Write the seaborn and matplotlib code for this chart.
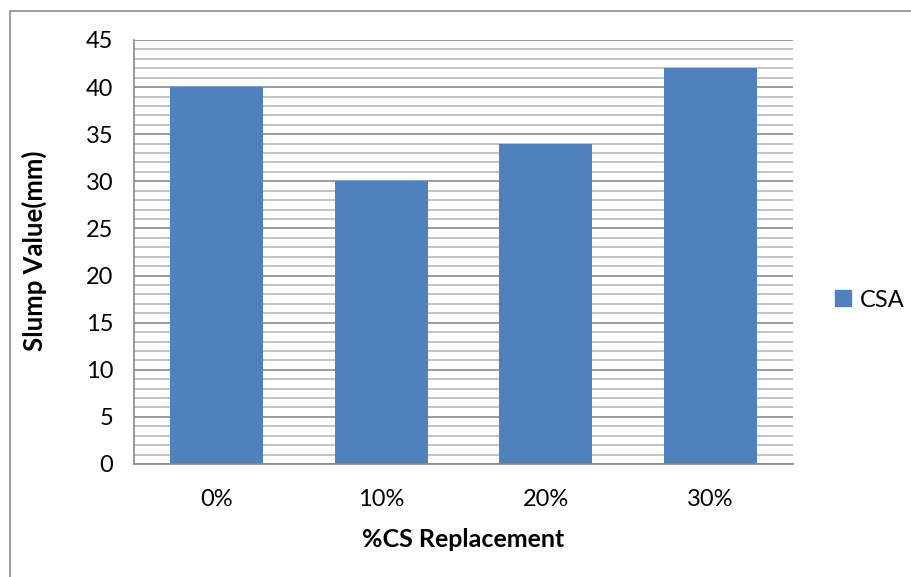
import matplotlib
matplotlib.use("Agg")
import matplotlib.pyplot as plt
from matplotlib.patches import Rectangle
from matplotlib.lines import Line2D
import seaborn as sns
import pandas as pd

categories = ["0%", "10%", "20%", "30%"]
slump_values = [40, 30, 34, 42]
series_name = "CSA"
y_ticks = [0, 5, 10, 15, 20, 25, 30, 35, 40, 45]

sns.set_style("white")
plt.rcParams["font.family"] = ["Lato", "DejaVu Sans"]
plt.rcParams["text.color"] = "black"
plt.rcParams["axes.labelcolor"] = "black"
plt.rcParams["xtick.color"] = "black"
plt.rcParams["ytick.color"] = "black"

df = pd.DataFrame({"Replacement": categories, "Slump": slump_values})

fig = plt.figure(figsize=(9.11, 5.77), dpi=100)
ax = fig.add_axes([134 / 911, 1 - 464 / 577, (793 - 134) / 911, (464 - 40) / 577])

# outer chart frame
fig.patches.append(Rectangle((10 / 911, -0.1), 1.2, 1 - 11 / 577 + 0.1,
                             transform=fig.transFigure, fill=False,
                             edgecolor="#8c8c8c", linewidth=1.2, zorder=0))

# minor and major gridlines
for v in range(0, 46):
    if v % 5 == 0:
        ax.axhline(v, color="#8a8a8a", linewidth=1.2, zorder=1)
    else:
        ax.axhline(v, color="#b9b9b9", linewidth=1.2, zorder=1)

sns.barplot(data=df, x="Replacement", y="Slump", color="#4F81BD",
            width=0.565, saturation=1, linewidth=0, ax=ax, zorder=2)

ax.set_ylim(0, 45)
ax.set_xlim(-0.5, 3.5)
ax.set_yticks(y_ticks)
ax.set_yticklabels([str(t) for t in y_ticks], fontsize=17)
ax.tick_params(axis="x", length=0, labelsize=17, pad=18)
ax.tick_params(axis="y", length=6, width=1.2, color="#8a8a8a", direction="out",
               pad=9, labelcolor="black")

for side in ["top", "right"]:
    ax.spines[side].set_visible(False)
ax.spines["left"].set_color("#8a8a8a")
ax.spines["left"].set_linewidth(1.2)
ax.spines["bottom"].set_color("#8a8a8a")
ax.spines["bottom"].set_linewidth(1.2)

ax.set_xlabel("%CS Replacement", fontsize=18, fontweight="bold")
ax.set_ylabel("Slump Value(mm)", fontsize=18.5, fontweight="bold")
ax.xaxis.set_label_coords(0.5, (464 - 528) / 424)
ax.yaxis.set_label_coords((47 - 134) / 659, (464 - 251) / 424)

handle = Line2D([], [], marker="s", linestyle="none", markersize=11,
                color="#4F81BD")
fig.legend([handle], [series_name], loc="center left",
           bbox_to_anchor=(835 / 911, 1 - 300 / 577), frameon=False,
           fontsize=17, handletextpad=0.35, handlelength=0.7, borderpad=0,
           borderaxespad=0)

fig.savefig("out.png", dpi=100)
